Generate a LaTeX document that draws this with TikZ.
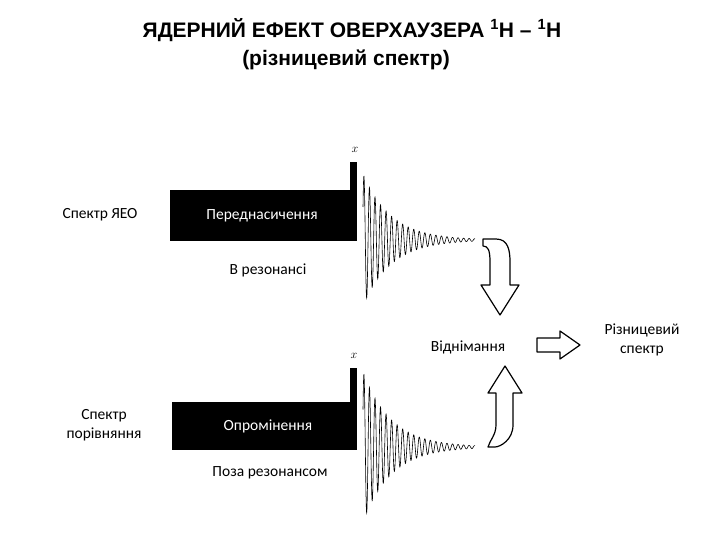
\documentclass[tikz,border=0pt]{standalone}
\usepackage{fontspec}
\setmainfont{Liberation Sans}
\newfontfamily\lbl{Carlito}
\begin{document}
\begin{tikzpicture}[x=1pt,y=-1pt,
  ttl/.style={font=\bfseries\fontsize{21}{24}\selectfont},
  lab/.style={font=\lbl\fontsize{15.5}{19}\selectfont, align=center},
  blk/.style={fill=black},
  hol/.style={draw=black, line width=1.2pt, fill=white, line join=round}]
\useasboundingbox (0,0) rectangle (720,540);
\node[ttl] (t1) at (352,30) {ЯДЕРНИЙ ЕФЕКТ ОВЕРХАУЗЕРА \textsuperscript{1}H – \textsuperscript{1}H};
\node[ttl] (t2) at (346,60) {(різницевий спектр)};
% top block
\fill[blk] (170,190) rectangle (357,241);
\fill[blk] (350,162) rectangle (357,241);
\node[font=\itshape\fontsize{13}{14}\selectfont] (x1) at (355,150) {$x$};
\node[lab, text=white] (p1) at (262,216) {Переднасичення};
\node[lab] (r1) at (268,270) {В резонансі};
\node[lab] (s1) at (100,215) {Спектр ЯЕО};
\draw[line width=0.6pt] plot[domain=0:112, samples=700] ({363+\x},{240 - 66*exp(-\x/28)*sin(\x*65+30)});
% bottom block
\fill[blk] (172,402) rectangle (357,450);
\fill[blk] (350,368) rectangle (357,450);
\node[font=\itshape\fontsize{13}{14}\selectfont] (x2) at (354,356) {$x$};
\node[lab, text=white] (p2) at (268,426) {Опромінення};
\node[lab] (r2) at (270,473) {Поза резонансом};
\node[lab] (s2) at (104,425) {Спектр\\порівняння};
\draw[line width=0.6pt] plot[domain=0:112, samples=700] ({363+\x},{447 - 75*exp(-\x/28)*sin(\x*65+30)});
% labels right
\node[lab] (v) at (468,347) {Віднімання};
\node[lab] (d) at (642,340) {Різницевий\\спектр};
% hollow arrows
\draw[hol] (483,239) -- (496,239) .. controls (508,239) and (510,250) .. (510,262) -- (510,285) -- (519,285) -- (500,315) -- (481,285) -- (490,285) -- (490,262) .. controls (490,250) and (488,246) .. (483,246) -- cycle;
\draw[hol] (488,447) -- (495,447) .. controls (500,447) and (513,440) .. (513,425) -- (513,393) -- (522,393) -- (505,366) -- (488,393) -- (496,393) -- (496,425) .. controls (496,435) and (490,440) .. (488,447) -- cycle;
\draw[hol] (537,338) -- (560,338) -- (560,331) -- (580,345) -- (560,359) -- (560,352) -- (537,352) -- cycle;
\end{tikzpicture}
\end{document}
